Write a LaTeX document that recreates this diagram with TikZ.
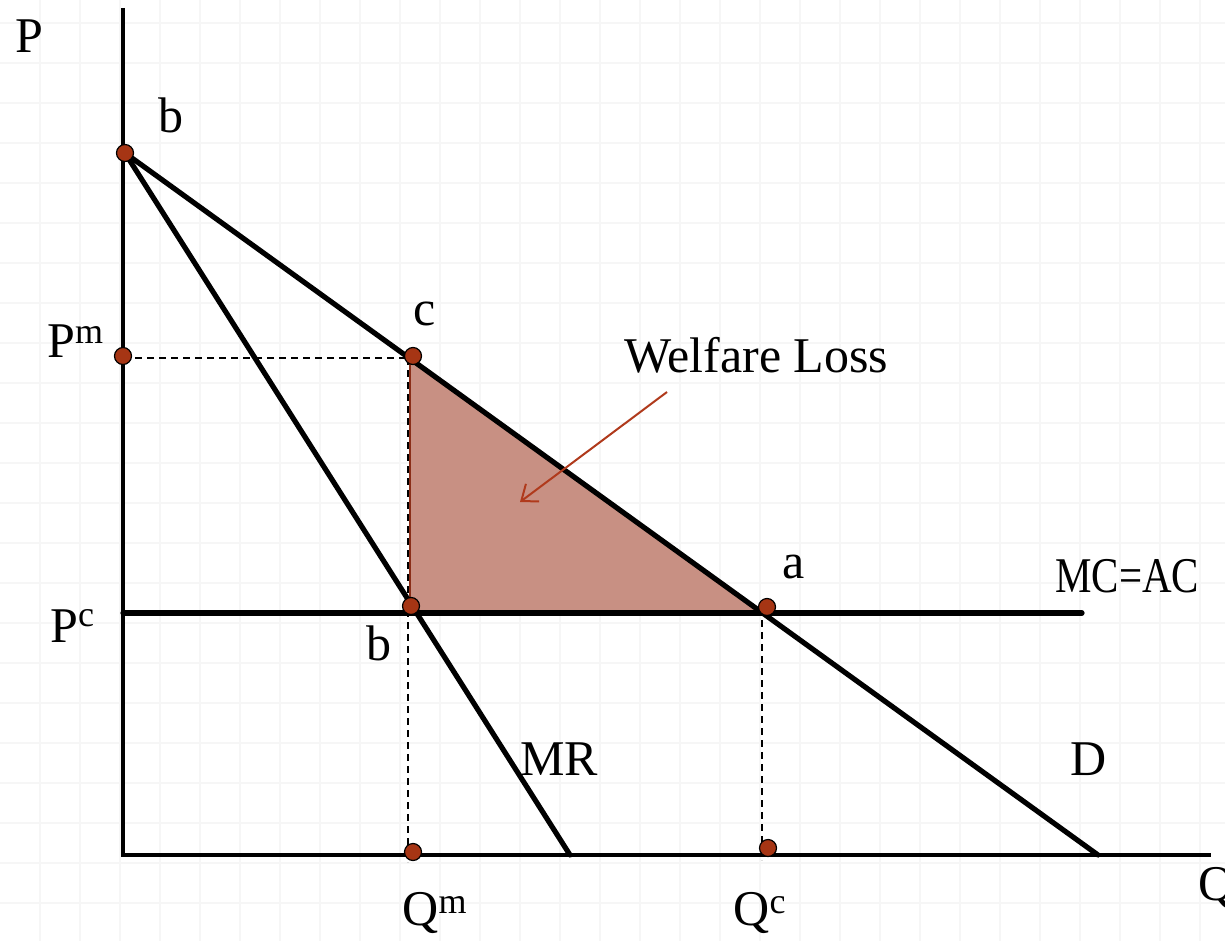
\documentclass[tikz,border=0pt]{standalone}
\usepackage{fontspec}
\setmainfont{Liberation Serif}
\usetikzlibrary{arrows.meta}
\definecolor{dotred}{HTML}{A63514}
\definecolor{lossfill}{HTML}{C89083}
\definecolor{lossedge}{HTML}{8A2E18}
\definecolor{arrowred}{HTML}{B03A1C}
\definecolor{gridc}{HTML}{F6F6F6}
\newcommand\supr[2][7pt]{\raisebox{#1}{\fontsize{18}{19}\selectfont #2}}
\tikzset{
  gridline/.style={draw=gridc, line width=0.6pt},
  axisline/.style={line width=2pt, black},
  curve/.style={line width=2.6pt, black, line cap=round},
  guide/.style={line width=1pt, black, dash pattern=on 3.5pt off 2.5pt},
  dot/.style={circle, fill=dotred, draw=black, line width=0.6pt, minimum size=8.5pt, inner sep=0pt},
  lbl/.style={anchor=base west, inner sep=0pt, font=\fontsize{25}{30}\selectfont},
  pointer/.style={draw=arrowred, line width=1pt, -{Straight Barb[length=7pt,width=11pt]}}
}
\begin{document}
\begin{tikzpicture}[x=0.5pt,y=-0.5pt]
\useasboundingbox (0,0) rectangle (1225,941);
\fill[white] (0,0) rectangle (1225,941);
% faint background grid
\foreach \i in {1,...,30} \draw[gridline] (40*\i,0) -- (40*\i,941);
\foreach \j in {0,...,22} \draw[gridline] (0,23+40*\j) -- (1225,23+40*\j);

% key coordinates
\coordinate (O) at (123,855);
\coordinate (Ytop) at (123,8);
\coordinate (Xend) at (1211,855);
\coordinate (Dtop) at (125,153);
\coordinate (Dend) at (1098,855);
\coordinate (MRend) at (570,855);
\coordinate (MCstart) at (123,613);
\coordinate (MCend) at (1082,613);
\coordinate (T1) at (410,359);
\coordinate (T2) at (410,613);
\coordinate (T3) at (762,613);
\coordinate (PmA) at (123,358);
\coordinate (PmB) at (410,358);
\coordinate (QmTop) at (408,358);
\coordinate (QmBot) at (408,862);
\coordinate (QcTop) at (762,608);
\coordinate (QcBot) at (762,860);

% welfare loss triangle
\fill[lossfill] (T1) -- (T2) -- (T3) -- cycle;
\draw[lossedge, line width=0.6pt] (T1) -- (T2);

% guides
\draw[guide] (PmA) -- (PmB);
\draw[guide] (QmTop) -- (QmBot);
\draw[guide] (QcTop) -- (QcBot);

% axes and curves
\draw[axisline] (Ytop) -- (O) -- (Xend);
\draw[curve] (MCstart) -- (MCend);
\draw[curve] (Dtop) -- (Dend);
\draw[curve] (Dtop) -- (MRend);

% dots
\node[dot] (pB) at (125,153) {};
\node[dot] (pPm) at (123,356) {};
\node[dot] (pC) at (413,356) {};
\node[dot] (pBl) at (411,606) {};
\node[dot] (pA) at (767,607) {};
\node[dot] (pQm) at (413,852) {};
\node[dot] (pQc) at (768,848) {};

% labels
\node[lbl] (lP) at (15,53) {P};
\node[lbl] (lB) at (158,133) {b};
\node[lbl] (lPm) at (47,357) {P\supr{m}};
\node[lbl] (lC) at (413,325) {c};
\node[lbl] (lW) at (624,372) {Welfare Loss};
\node[lbl] (lA) at (782,578) {a};
\node[lbl] (lMC) at (1055,592) {\scalebox{0.82}[1]{MC=AC}};
\node[lbl] (lPc) at (50,642) {P\supr[8pt]{c}};
\node[lbl] (lBl) at (366,660) {b};
\node[lbl] (lMR) at (520,775) {MR};
\node[lbl] (lD) at (1070,775) {D};
\node[lbl] (lQm) at (402,925) {Q\supr[6pt]{m}};
\node[lbl] (lQc) at (733,925) {Q\supr[6pt]{c}};
\node[lbl] (lQ) at (1198,900) {Q};

% pointer
\coordinate (arrS) at (667,392);
\coordinate (arrE) at (520,502);
\draw[pointer] (arrS) -- (arrE);
\end{tikzpicture}
\end{document}
